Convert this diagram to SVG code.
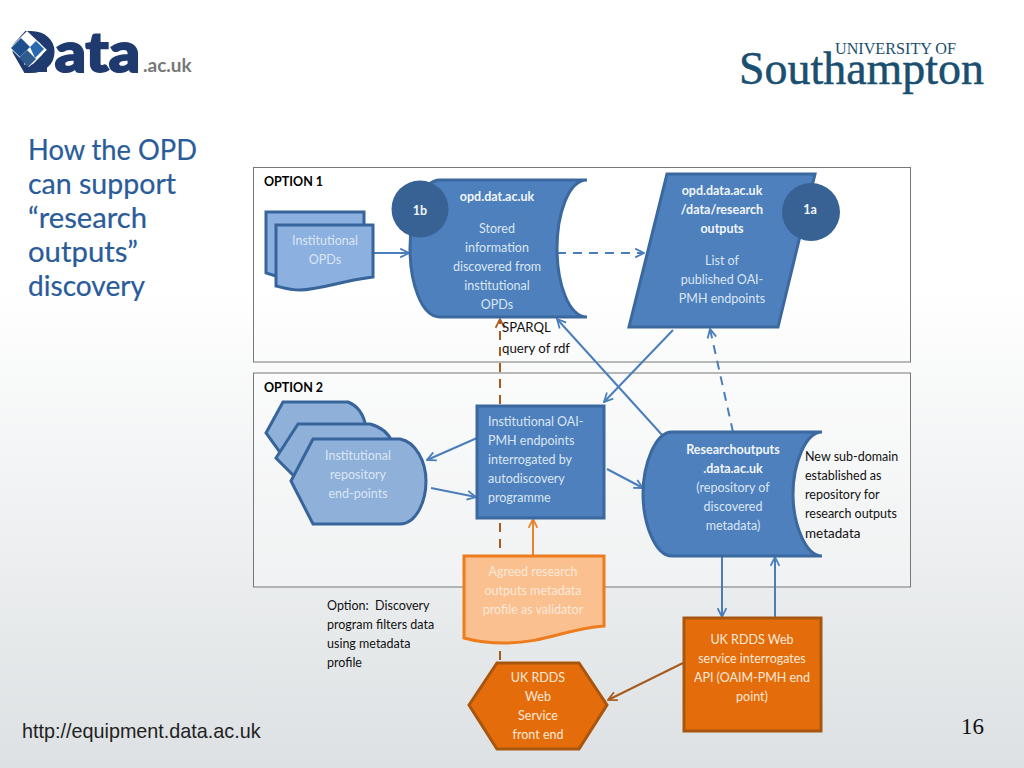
<svg xmlns="http://www.w3.org/2000/svg" width="1024" height="768" viewBox="0 0 1024 768">
<defs>
<linearGradient id="bg" x1="0" y1="0" x2="0" y2="1"><stop offset="0" stop-color="#ffffff"/><stop offset="0.38" stop-color="#ffffff"/><stop offset="1" stop-color="#dde1e3"/></linearGradient>
<marker id="ab" viewBox="0 0 10 10" refX="9" refY="5" markerWidth="11" markerHeight="11" markerUnits="userSpaceOnUse" orient="auto"><path d="M1 1 L9 5 L1 9" fill="none" stroke="#4a7ebb" stroke-width="1.6"/></marker>
<marker id="ao" viewBox="0 0 10 10" refX="9" refY="5" markerWidth="11" markerHeight="11" markerUnits="userSpaceOnUse" orient="auto"><path d="M1 1 L9 5 L1 9" fill="none" stroke="#e8832a" stroke-width="1.6"/></marker>
<marker id="abr" viewBox="0 0 10 10" refX="9" refY="5" markerWidth="11" markerHeight="11" markerUnits="userSpaceOnUse" orient="auto"><path d="M1 1 L9 5 L1 9" fill="none" stroke="#a85a1c" stroke-width="1.6"/></marker>
</defs>
<style>
text{font-family:Lato,"Liberation Sans",sans-serif}
.t{font-size:12.5px;text-anchor:middle;fill:#dbe6f4;transform:translateY(1px)}
.o{font-size:12.5px;text-anchor:middle;fill:#fde9d9;transform:translateY(1px)}
.b{font-weight:700;fill:#f2f6fb}
.k{font-size:12.5px;fill:#111}
.opt{font-size:12.5px;font-weight:700;fill:#000}
.h{font-size:28px;fill:#2a5c9a;stroke:#2a5c9a;stroke-width:0.2}
.d{fill:#4d80bd;stroke:#3a689f;stroke-width:3}
.l{fill:#8cb0e0;stroke:#37659b;stroke-width:3}
.s{fill:#8eb0d9;stroke:#37659b;stroke-width:3}
.c{fill:#386294}
.e{fill:none;stroke-width:2}
.bl{stroke:#4a7ebb;marker-end:url(#ab)}
</style>
<rect width="1024" height="768" fill="url(#bg)"/>

<g id="logo-data">
<text x="9" y="72" font-size="55" font-weight="900" fill="#1f3a6e" stroke="#1f3a6e" stroke-width="2" textLength="131" lengthAdjust="spacingAndGlyphs">Data</text>
<path d="M8 28 H28 L10 48 L25 74 H8 Z" fill="#fff"/>
<path d="M10 48 L27 31 L47 50 L29 67 Z" fill="#fff"/>
<path d="M11 48 L21 38 L30 47 L20 57Z" fill="#1f4f8e"/>
<path d="M30 47 L36 41 L44 49 L35 58Z" fill="#2a68b0"/>
<path d="M19 58 L27 50 L36 59 L28 67Z" fill="#2f5a8e"/>
<path d="M25 72 L47 50 L47 72Z" fill="#1f3a6e"/>
<text x="143" y="72" font-size="19" font-weight="700" fill="#777">.ac.uk</text>
</g>
<g id="logo-southampton">
<text x="835" y="54" font-size="17" fill="#1a4f70" style="font-family:'Liberation Serif',serif" textLength="121" lengthAdjust="spacingAndGlyphs">UNIVERSITY OF</text>
<text x="739" y="84" font-size="47" fill="#1a4f70" stroke="#1a4f70" stroke-width="0.5" style="font-family:'Liberation Serif',serif" textLength="245" lengthAdjust="spacingAndGlyphs">Southampton</text>
</g>
<g id="title"><text class="h" x="28" y="160" textLength="169" lengthAdjust="spacingAndGlyphs">How the OPD</text><text class="h" x="28" y="194" textLength="148" lengthAdjust="spacingAndGlyphs">can support</text><text class="h" x="28" y="228" textLength="119" lengthAdjust="spacingAndGlyphs">“research</text><text class="h" x="28" y="262" textLength="110" lengthAdjust="spacingAndGlyphs">outputs”</text><text class="h" x="28" y="296" textLength="117" lengthAdjust="spacingAndGlyphs">discovery</text></g>

<g id="option-1"><rect x="253.5" y="167.500" width="657" height="194.500" fill="none" stroke="#777" stroke-width="1"/><text class="opt" x="264" y="186">OPTION 1</text></g>
<g id="option-2"><rect x="253.5" y="373" width="657" height="214" fill="#fff" fill-opacity="0.3" stroke="#777" stroke-width="1"/><text class="opt" x="264" y="392">OPTION 2</text></g>

<g id="connectors">
<path class="e" d="M500 660 V319" stroke="#a85a1c" stroke-width="2.500" stroke-dasharray="9 7" marker-end="url(#abr)"/>
<path class="e bl" d="M374 253 H409"/>
<path class="e bl" d="M557 253 H644" stroke-dasharray="9 7"/>
<path class="e bl" d="M663 436 L557 319"/>
<path class="e bl" d="M673 330 L604 402"/>
<path class="e bl" d="M733 432 L710 329" stroke-dasharray="9 7"/>
<path class="e bl" d="M477 438 L427 460"/>
<path class="e bl" d="M431 488 L476 497"/>
<path class="e bl" d="M607 469 L643 488"/>
<path class="e" d="M533 556 V519" stroke="#e8832a" marker-end="url(#ao)"/>
<path class="e bl" d="M722 556 V617"/>
<path class="e bl" d="M775 617 V557"/>
<path class="e" d="M683 663 L608 700" stroke="#a85a1c" marker-end="url(#abr)"/>
</g>

<g id="institutional-opds">
<path class="l" d="M266 212 H364 V265 H290 L276 276 L266 273 Z"/>
<path class="l" d="M276 225 H373 V277 C340 281 320 290 300 290 C290 290 284 288 276 286 Z"/>
<text class="t"><tspan x="325" y="244">Institutional</tspan><tspan x="325" y="263">OPDs</tspan></text>
</g>
<g id="opd-dat">
<path class="d" d="M587 180 H440 C421 180 410 215 410 248.500 C410 282 421 317 440 317 H587 C568 317 557 282 557 248.500 C557 215 568 180 587 180 Z"/>
<text class="t"><tspan class="b" x="497" y="200">opd.dat.ac.uk</tspan><tspan x="497" y="232">Stored</tspan><tspan x="497" y="251">information</tspan><tspan x="497" y="270">discovered from</tspan><tspan x="497" y="289">institutional</tspan><tspan x="497" y="308">OPDs</tspan></text>
</g>
<g id="node-1b"><circle class="c" cx="420" cy="209" r="28.500"/><text class="t b" x="420" y="214">1b</text></g>
<g id="opd-data">
<path class="d" d="M667 174 H815 L778 327 H629 Z"/>
<text class="t"><tspan class="b" x="722" y="194">opd.data.ac.uk</tspan><tspan class="b" x="722" y="213">/data/research</tspan><tspan class="b" x="722" y="232">outputs</tspan><tspan x="722" y="264">List of</tspan><tspan x="722" y="283">published OAI-</tspan><tspan x="722" y="302">PMH endpoints</tspan></text>
</g>
<g id="node-1a"><circle class="c" cx="811" cy="212" r="29"/><text class="t b" x="810" y="213">1a</text></g>
<g id="sparql"><text class="k" style="font-size:13.2px"><tspan x="502" y="332">SPARQL</tspan><tspan x="502" y="353">query of rdf</tspan></text></g>

<g id="repository-end-points">
<path class="s" d="M266 433 L283 402 H348 C358 406 364 414 366 428 L300 480 Z"/>
<path class="s" d="M276 458 L298 424 H370 C381 427 389 434 392 442 L316 498 Z"/>
<path class="s" d="M291 481 L313 439 H400 C416 442 426 462 426 481 C426 502 416 524 400 524 H313 Z"/>
<text class="t"><tspan x="358" y="459">Institutional</tspan><tspan x="358" y="478">repository</tspan><tspan x="358" y="497">end-points</tspan></text>
</g>
<g id="autodiscovery">
<rect class="d" x="477" y="406" width="127" height="112"/>
<text class="t" style="text-anchor:start"><tspan x="488" y="425">Institutional OAI-</tspan><tspan x="488" y="444">PMH endpoints</tspan><tspan x="488" y="463">interrogated by</tspan><tspan x="488" y="482">autodiscovery</tspan><tspan x="488" y="501">programme</tspan></text>
</g>
<g id="researchoutputs">
<path class="d" d="M822 432 H672 C655 432 643 465 643 494 C643 523 655 556 672 556 H822 C805 556 793 523 793 494 C793 465 805 432 822 432 Z"/>
<text class="t"><tspan class="b" x="733" y="453">Researchoutputs</tspan><tspan class="b" x="733" y="472">.data.ac.uk</tspan><tspan x="733" y="491">(repository of</tspan><tspan x="733" y="510">discovered</tspan><tspan x="733" y="529">metadata)</tspan></text>
</g>
<g id="subdomain-note"><text class="k"><tspan x="805" y="461">New sub-domain</tspan><tspan x="805" y="480">established as</tspan><tspan x="805" y="499">repository for</tspan><tspan x="805" y="518">research outputs</tspan><tspan x="805" y="538" style="font-size:13.5px">metadata</tspan></text></g>
<g id="agreed-profile">
<path fill="#fac090" stroke="#ec7c1c" stroke-width="3" d="M464 556 H604 V626 C565 629 545 643 505 643 C490 643 478 642 464 638 Z"/>
<text class="o"><tspan x="533" y="575">Agreed research</tspan><tspan x="533" y="594">outputs metadata</tspan><tspan x="533" y="613">profile as validator</tspan></text>
</g>
<g id="option-note"><text class="k" xml:space="preserve"><tspan x="327" y="610">Option:  Discovery</tspan><tspan x="327" y="629">program filters data</tspan><tspan x="327" y="648">using metadata</tspan><tspan x="327" y="667">profile</tspan></text></g>
<g id="rdds-front-end">
<path fill="#e46c0a" stroke="#a8560f" stroke-width="3" d="M469 705 L497 663 H579 L607 705 L579 749 H497 Z"/>
<text class="o"><tspan x="538" y="681">UK RDDS</tspan><tspan x="538" y="700">Web</tspan><tspan x="538" y="719">Service</tspan><tspan x="538" y="738">front end</tspan></text>
</g>
<g id="rdds-service">
<rect x="684" y="618" width="137" height="113" fill="#e46c0a" stroke="#a8560f" stroke-width="3"/>
<text class="o"><tspan x="752" y="643">UK RDDS Web</tspan><tspan x="752" y="662">service interrogates</tspan><tspan x="752" y="681">API (OAIM-PMH end</tspan><tspan x="752" y="700">point)</tspan></text>
</g>
<g id="footer">
<text x="22" y="738" font-size="19.800" fill="#222" style="font-family:'Liberation Sans',sans-serif">http://equipment.data.ac.uk</text>
<text x="961" y="734" font-size="23" fill="#111" style="font-family:'Liberation Serif',serif">16</text>
</g>
</svg>
